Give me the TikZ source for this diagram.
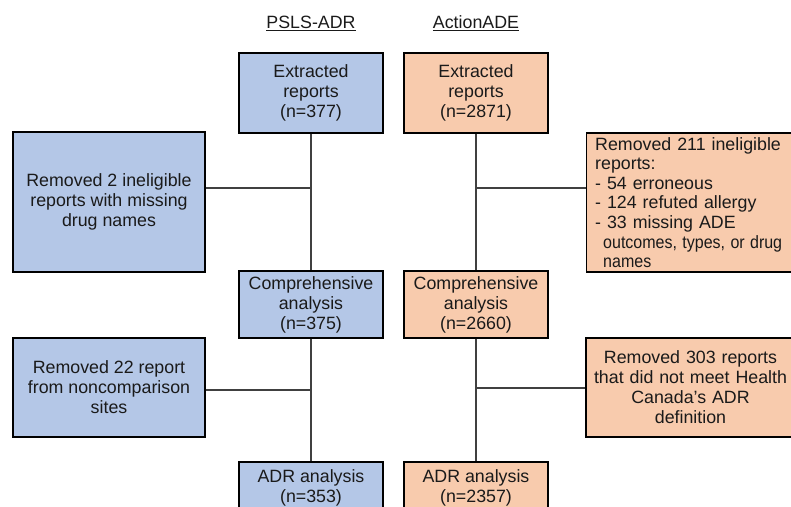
\documentclass[tikz,border=0pt]{standalone}
\usepackage{fontspec}
\usepackage{graphicx}
\setmainfont{Liberation Sans}
\definecolor{bluefill}{HTML}{B4C7E7}
\definecolor{orangefill}{HTML}{F8CBAD}
\definecolor{linegray}{HTML}{404040}
\definecolor{txt}{HTML}{1A1A1A}
\begin{document}
\begin{tikzpicture}[x=1pt,y=-1pt,
  every node/.style={font=\fontsize{17.8}{20}\selectfont, text=txt},
  boxbase/.style={draw=black, line width=1.4pt, inner sep=0pt, align=center},
  bluebox/.style={boxbase, fill=bluefill},
  orangebox/.style={boxbase, fill=orangefill},
  conn/.style={draw=linegray, line width=1.2pt},
  head/.style={inner sep=0pt}
]
\useasboundingbox (0,0) rectangle (791,506);
\begin{scope}
\clip (0,0) rectangle (791,506);
% headings
\node[head] (h1) at (311,23) {\underline{PSLS-ADR}};
\node[head] (h2) at (476,23) {\underline{ActionADE}};
% main boxes
\node[bluebox, minimum width=144pt, minimum height=80pt] (ext1) at (311,93) {Extracted\\reports\\(n=377)};
\node[orangebox, minimum width=144pt, minimum height=80pt] (ext2) at (476,93) {Extracted\\reports\\(n=2871)};
\node[bluebox, minimum width=144pt, minimum height=67pt] (comp1) at (311,304.5) {Comprehensive\\analysis\\(n=375)};
\node[orangebox, minimum width=144pt, minimum height=67pt] (comp2) at (476,304.5) {Comprehensive\\analysis\\(n=2660)};
\node[bluebox, minimum width=144pt, minimum height=52pt] (adr1) at (311,488) {ADR analysis\\(n=353)};
\node[orangebox, minimum width=144pt, minimum height=52pt] (adr2) at (476,488) {ADR analysis\\(n=2357)};
% removal boxes
\node[bluebox, minimum width=192pt, minimum height=140pt] (rem1) at (109,202) {Removed 2 ineligible\\reports with missing\\drug names};
\node[orangebox, anchor=west, minimum height=139pt, text width=205pt, align=left, inner xsep=8.5pt,
  font=\fontsize{17.8}{19.6}\selectfont] (rem2) at (586,202.5)
  {\mbox{Removed 211 ineligible}\\\mbox{reports:}\\\mbox{- 54 erroneous}\\\mbox{- 124 refuted allergy}\\\mbox{- 33 missing ADE}\\\mbox{\hspace*{8pt}\scalebox{0.9}[1]{outcomes, types, or drug}}\\\mbox{\hspace*{8pt}\scalebox{0.9}[1]{names}}};
\node[bluebox, minimum width=192pt, minimum height=99pt] (rem3) at (109,387.5) {Removed 22 report\\from noncomparison\\sites};
\node[orangebox, minimum width=209pt, minimum height=99pt, text width=209pt] (rem4) at (690.5,387.5) {Removed 303 reports\\that did not meet Health\\Canada's ADR\\definition};
% junctions
\coordinate (j1) at (311,188);
\coordinate (j2) at (476,188);
\coordinate (j3) at (311,390);
\coordinate (j4) at (476,388);
% connectors
\draw[conn] (ext1.south) -- (comp1.north);
\draw[conn] (ext2.south) -- (comp2.north);
\draw[conn] (comp1.south) -- (adr1.north);
\draw[conn] (comp2.south) -- (adr2.north);
\draw[conn] (j1 -| rem1.east) -- (j1);
\draw[conn] (j2) -- (j2 -| rem2.west);
\draw[conn] (j3 -| rem3.east) -- (j3);
\draw[conn] (j4) -- (j4 -| rem4.west);
\end{scope}
\end{tikzpicture}
\end{document}
